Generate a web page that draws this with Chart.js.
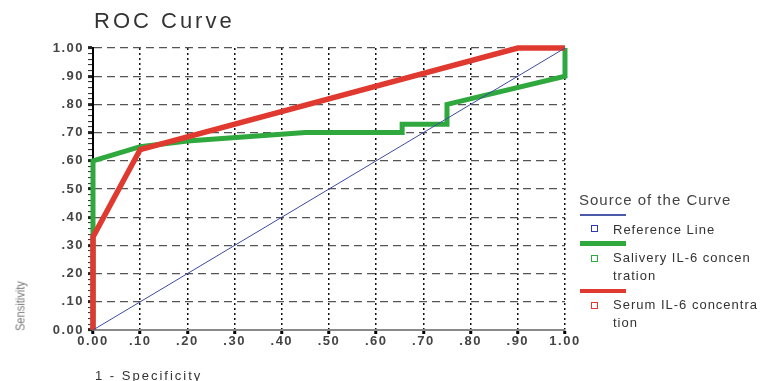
<!DOCTYPE html>
<html>
<head>
<meta charset="utf-8">
<script src="https://cdn.jsdelivr.net/npm/chart.js@4/dist/chart.umd.min.js"></script>
<style>
  body { margin: 0; background: #fff; font-family: 'Liberation Sans', Arial, sans-serif; }
  #wrap { position: relative; width: 766px; height: 381px; overflow: hidden; }
  #title { position: absolute; left: 94px; top: 8px; font-size: 22px; letter-spacing: 3px; color: #333; }
  #ytitle { position: absolute; left: 20px; top: 306px; font-size: 13px; color: #777;
            transform: translate(-50%, -50%) rotate(-90deg) scaleX(0.85); white-space: nowrap; }
  #xtitle { position: absolute; left: 95px; top: 368px; font-size: 13px; letter-spacing: 2px; color: #333; }
  .lg { position: absolute; color: #333; font-size: 13px; letter-spacing: 1px; white-space: nowrap; }
  .sw { position: absolute; left: 580px; width: 46px; }
  .sq { position: absolute; left: 591px; width: 5px; height: 5px; border: 1.5px solid; background: #fff; }
</style>
</head>
<body>
<div id="wrap">
  <canvas id="roc" width="766" height="381"></canvas>
  <div id="title">ROC Curve</div>
  <div id="ytitle">Sensitivity</div>
  <div id="xtitle">1 - Specificity</div>

  <div class="lg" style="left:579px; top:191px; font-size:15px; letter-spacing:1px; color:#444;">Source of the Curve</div>
  <div class="sw" style="top:214px; height:1.5px; background:#4b5aa8;"></div>
  <div class="sq" style="top:225px; border-color:#2d3ab0;"></div>
  <div class="lg" style="left:613px; top:222px;">Reference Line</div>
  <div class="sw" style="top:241px; height:5px; background:#2fa83e;"></div>
  <div class="sq" style="top:255px; border-color:#2fa83e;"></div>
  <div class="lg" style="left:613px; top:250px;">Salivery IL-6 concen</div>
  <div class="lg" style="left:613px; top:268px;">tration</div>
  <div class="sw" style="top:289px; height:4px; background:#e03a30;"></div>
  <div class="sq" style="top:302px; border-color:#e03a30;"></div>
  <div class="lg" style="left:613px; top:297px;">Serum IL-6 concentra</div>
  <div class="lg" style="left:613px; top:315px;">tion</div>
</div>

<script>
// Valeurs (1 - spécificité, sensibilité)
const refX = [0, 1];
const refY = [0, 1];

const salivaryX = [0, 0,    0.10, 0.20, 0.45, 0.655, 0.655, 0.75, 0.75, 1.00, 1.00];
const salivaryY = [0, 0.60, 0.65, 0.67, 0.70, 0.70,  0.73,  0.73, 0.80, 0.90, 1.00];

const serumX = [0, 0,    0.10, 0.90, 1.00];
const serumY = [0, 0.33, 0.64, 1.00, 1.00];

const xTicks = [0, 0.1, 0.2, 0.3, 0.4, 0.5, 0.6, 0.7, 0.8, 0.9, 1];

const pts = (xs, ys) => xs.map((x, i) => ({ x, y: ys[i] }));

// étiquettes façon SPSS : "0.00", ".10" ... "1.00"
const fmt = v => {
    const r = Math.round(v * 100) / 100;
    if (r === 0) return '0.00';
    if (r === 1) return '1.00';
    return r.toFixed(2).replace(/^0/, '');
};
const isMajor = v => Math.round(v * 100) % 10 === 0;

const spacing = {
    id: 'spacing',
    beforeUpdate(chart) { chart.ctx.letterSpacing = '1.5px'; },
    beforeDraw(chart) { chart.ctx.letterSpacing = '1.5px'; }
};

new Chart(document.getElementById('roc'), {
    type: 'scatter',
    data: {
        datasets: [
            {
                label: 'Reference Line',
                data: pts(refX, refY),
                showLine: true, borderColor: '#3b4ba0', borderWidth: 1,
                pointRadius: 0, clip: false
            },
            {
                label: 'Serum IL-6 concentration',
                data: pts(serumX, serumY),
                showLine: true, borderColor: '#e03a30', borderWidth: 5.5,
                pointRadius: 0, clip: false, borderJoinStyle: 'miter'
            },
            {
                label: 'Salivery IL-6 concentration',
                data: pts(salivaryX, salivaryY),
                showLine: true, borderColor: '#2fa83e', borderWidth: 5,
                pointRadius: 0, clip: false, borderJoinStyle: 'miter'
            }
        ]
    },
    plugins: [spacing],
    options: {
        responsive: false,
        animation: false,
        layout: { padding: { top: 48, right: 201, left: 0, bottom: 0 } },
        plugins: { legend: { display: false }, tooltip: { enabled: false } },
        scales: {
            x: {
                type: 'linear', min: 0, max: 1,
                afterFit: s => { s.height = 51; },
                afterBuildTicks: s => { s.ticks = xTicks.map(v => ({ value: v })); },
                ticks: {
                    callback: fmt, color: '#444', padding: 0, maxRotation: 0,
                    font: { family: 'Liberation Sans', size: 13, weight: 'bold' }
                },
                grid: { color: '#111', lineWidth: 1.5, tickLength: 4, tickWidth: 3, tickColor: '#000' },
                border: { display: true, color: '#8a8a8a', width: 2, dash: [2, 3] }
            },
            y: {
                type: 'linear', min: 0, max: 1,
                afterFit: s => { s.width = 93; },
                ticks: {
                    stepSize: 0.02, autoSkip: false, padding: 4,
                    callback: v => isMajor(v) ? fmt(v) : '',
                    color: '#444',
                    font: { family: 'Liberation Sans', size: 13, weight: 'bold' }
                },
                grid: {
                    color: c => isMajor(c.tick.value) ? '#555' : 'rgba(0,0,0,0)',
                    lineWidth: 1.2,
                    tickLength: 5,
                    tickWidth: c => isMajor(c.tick.value) ? 3 : 1,
                    tickColor: '#222'
                },
                border: { display: true, color: '#000', width: 2, dash: [8, 5] }
            }
        }
    }
});
</script>
</body>
</html>
